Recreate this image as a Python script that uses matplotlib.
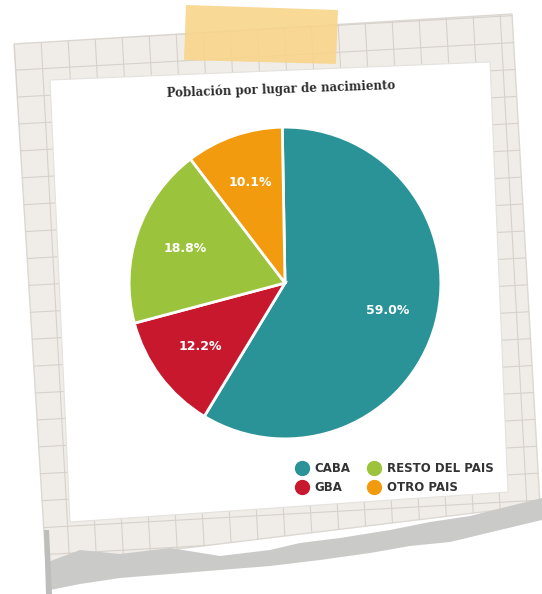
#!/usr/bin/env python3
"""Pie chart: Población por lugar de nacimiento (paper-note style)."""

import matplotlib
matplotlib.use("Agg")
import matplotlib.pyplot as plt
from matplotlib.lines import Line2D
from matplotlib.patches import Polygon

LABELS = ["CABA", "GBA", "RESTO DEL PAIS", "OTRO PAIS"]
SHARES = [59.0, 12.2, 18.8, 10.1]
COLORS = ["#2A9398", "#C8182D", "#9CC33C", "#F29B0E"]
TITLE = "Población por lugar de nacimiento"

W, H = 542, 594
fig = plt.figure(figsize=(W / 100, H / 100), dpi=100)
fig.patch.set_facecolor("white")

# background decoration in pixel coordinates
bg = fig.add_axes([0, 0, 1, 1])
bg.set_xlim(0, W)
bg.set_ylim(H, 0)
bg.axis("off")

paper = [(14, 44), (512, 14), (540, 505), (46, 565)]
paper_patch = Polygon(paper, closed=True, facecolor="#F0EDE8", edgecolor="#DCD8D2",
                      lw=1, zorder=1)
bg.add_patch(paper_patch)
for i in range(-2, 22):
    x0 = 14 + i * 27
    ln, = bg.plot([x0, x0 + 30], [40 - i * 1.6, 590 - i * 1.6], color="#D6D1CA",
                  lw=0.8, zorder=1.5)
    ln.set_clip_path(paper_patch)
for j in range(-2, 24):
    y0 = 44 + j * 27
    ln, = bg.plot([0, W], [y0, y0 - 30], color="#D6D1CA", lw=0.8, zorder=1.5)
    ln.set_clip_path(paper_patch)

# torn grey strip at the bottom
top = [(48, 562), (80, 550), (120, 554), (170, 548), (220, 556), (270, 550),
       (300, 543), (340, 538), (390, 530), (430, 522), (470, 516), (510, 506), (542, 498)]
bottom = [(542, 520), (500, 530), (450, 542), (410, 546), (370, 553), (320, 560),
          (270, 566), (220, 570), (170, 574), (120, 578), (80, 584), (50, 590)]
bg.add_patch(Polygon(top + bottom, closed=True, facecolor="#CACAC8", edgecolor="none",
                     zorder=2))
bg.add_patch(Polygon([(44, 530), (49, 530), (52, 594), (46, 594)], closed=True,
                     facecolor="#BDBDBB", edgecolor="none", zorder=2))

# white card
card = [(50, 80), (490, 62), (508, 492), (70, 522)]
bg.add_patch(Polygon(card, closed=True, facecolor="white", edgecolor="#E4E2DE",
                     lw=0.8, zorder=3))

# tape
tape = [(186, 5), (338, 10), (336, 64), (184, 60)]
bg.add_patch(Polygon(tape, closed=True, facecolor="#F8D58A", edgecolor="none",
                     alpha=0.9, zorder=4))

bg.text(281, 89, TITLE, ha="center", va="center", fontsize=8.5, fontweight="bold",
        family="DejaVu Serif", color="#2B2B2B", rotation=2, zorder=5)

# pie
cx, cy, r = 285, 283, 159
ax = fig.add_axes([(cx - r) / W, (H - cy - r) / H, 2 * r / W, 2 * r / H])
wedges, texts = ax.pie(
    SHARES,
    colors=COLORS,
    startangle=91,
    counterclock=False,
    labels=[f"{v:.1f}%" for v in SHARES],
    labeldistance=0.68,
    wedgeprops={"edgecolor": "white", "linewidth": 2},
)
for t in texts:
    t.set_color("white")
    t.set_fontsize(9)
    t.set_fontweight("bold")
    t.set_horizontalalignment("center")
    t.set_verticalalignment("center")
ax.set_xlim(-1.02, 1.02)
ax.set_ylim(-1.02, 1.02)

handles = [Line2D([], [], marker="o", linestyle="none", markersize=10,
                  markerfacecolor=c, markeredgecolor=c) for c in COLORS]
leg = fig.legend(handles, LABELS, ncol=2, loc="center",
                 bbox_to_anchor=(392 / W, 1 - 478 / H), frameon=False,
                 handletextpad=0.1, columnspacing=1.0, labelspacing=0.5,
                 prop={"weight": "bold", "size": 8.5})
for t in leg.get_texts():
    t.set_color("#333333")

fig.savefig("out.png", dpi=100)
